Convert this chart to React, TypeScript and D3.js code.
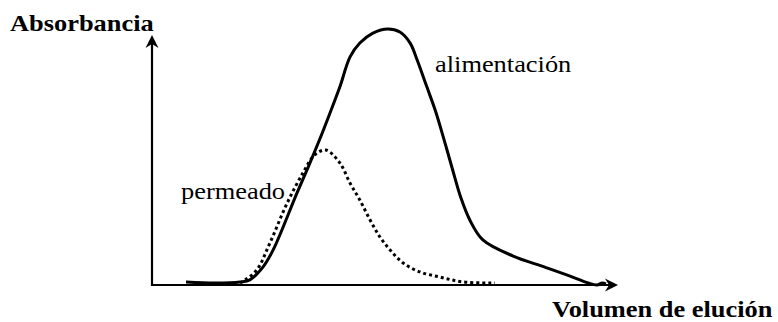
import React, { useEffect, useRef } from 'react';
import * as d3 from 'd3';

// elution volume (arbitrary units, 0-100) and absorbance (0-100, feed peak = 100)
const feedVolume = [7.3, 13.5, 18.9, 21.0, 23.8, 26.0, 31.1, 33.9, 36.1, 38.2, 40.3, 42.5, 44.6, 47.4, 50.6, 53.2, 55.4, 56.9, 59.0, 60.9, 62.7, 64.4, 66.3, 68.2, 71.0, 77.5, 84.3, 89.7, 93.6, 95.5, 96.6, 97.4];
const feedAbs = [1.2, 0.8, 1.2, 2.0, 7.0, 13.7, 35.9, 47.7, 57.4, 67.2, 77.3, 89.1, 94.5, 98.4, 100, 98.8, 94.5, 87.9, 77.3, 67.6, 56.6, 45.7, 34.0, 25.4, 17.6, 11.3, 7.0, 3.5, 0.8, 0, 0.8, 0.4];

const permVolume = [18.9, 20.0, 22.5, 25.3, 29.0, 32.4, 34.9, 37.3, 40.3, 42.5, 44.6, 46.8, 48.9, 51.1, 53.9, 57.5, 61.8, 66.7, 73.6];
const permAbs = [0.8, 2.0, 5.9, 16.4, 32.0, 43.8, 50.8, 52.7, 47.7, 39.8, 33.2, 25.4, 18.8, 13.7, 8.6, 5.1, 3.1, 1.2, 0.8];

const yLabel = 'Absorbancia';
const xLabel = 'Volumen de elución';
const feedLabel = 'alimentación';
const permLabel = 'permeado';

const W = 778;
const H = 322;

export default function App() {
  const ref = useRef<SVGSVGElement>(null);

  useEffect(() => {
    const svg = d3.select(ref.current);
    svg.selectAll('*').remove();

    const x = d3.scaleLinear().domain([0, 100]).range([152, 618]);
    const y = d3.scaleLinear().domain([0, 100]).range([285, 29]);

    const line = d3
      .line<[number, number]>()
      .x((d) => x(d[0]))
      .y((d) => y(d[1]))
      .curve(d3.curveCatmullRom.alpha(0.5));

    const feed = feedVolume.map((v, i) => [v, feedAbs[i]] as [number, number]);
    const perm = permVolume.map((v, i) => [v, permAbs[i]] as [number, number]);

    const x0 = x(0);
    const y0 = y(0);
    const xEnd = x(100);
    const yTop = y(97.7);
    const ah = 13;
    const aw = 6.5;
    const notch = 4;

    // axes with arrowheads
    svg.append('line')
      .attr('x1', x0 - 1).attr('y1', y0).attr('x2', xEnd - 6).attr('y2', y0)
      .attr('stroke', '#000').attr('stroke-width', 2.2);
    svg.append('line')
      .attr('x1', x0).attr('y1', y0 + 1).attr('x2', x0).attr('y2', yTop + 6)
      .attr('stroke', '#000').attr('stroke-width', 2.2);
    svg.append('path')
      .attr('d', `M${x0},${yTop} L${x0 - aw},${yTop + ah} L${x0},${yTop + ah - notch} L${x0 + aw},${yTop + ah} Z`)
      .attr('fill', '#000');
    svg.append('path')
      .attr('d', `M${xEnd},${y0} L${xEnd - ah},${y0 - aw} L${xEnd - ah + notch},${y0} L${xEnd - ah},${y0 + aw} Z`)
      .attr('fill', '#000');

    // curves
    svg.append('path')
      .datum(perm)
      .attr('d', line)
      .attr('fill', 'none')
      .attr('stroke', '#000')
      .attr('stroke-width', 3)
      .attr('stroke-dasharray', '3,3');
    svg.append('path')
      .datum(feed)
      .attr('d', line)
      .attr('fill', 'none')
      .attr('stroke', '#000')
      .attr('stroke-width', 3)
      .attr('stroke-linejoin', 'round');

    // labels (original lettering is a bit wider than plain Times)
    const labels: [string, number, number, boolean][] = [
      [yLabel, 10, 31, true],
      [xLabel, 552, 317, true],
      [feedLabel, 435, 72, false],
      [permLabel, 181, 199, false],
    ];
    labels.forEach(([t, lx, ly, bold]) => {
      svg.append('text')
        .attr('transform', `translate(${lx},${ly}) scale(1.1,1)`)
        .attr('font-family', 'Liberation Serif')
        .attr('font-size', 24)
        .attr('font-weight', bold ? 'bold' : 'normal')
        .style('font-family', "'Liberation Serif'")
        .attr('fill', '#000')
        .text(t);
    });
  }, []);

  return <svg ref={ref} width={W} height={H} style={{ position: 'absolute', left: 0, top: 0 }} />;
}
